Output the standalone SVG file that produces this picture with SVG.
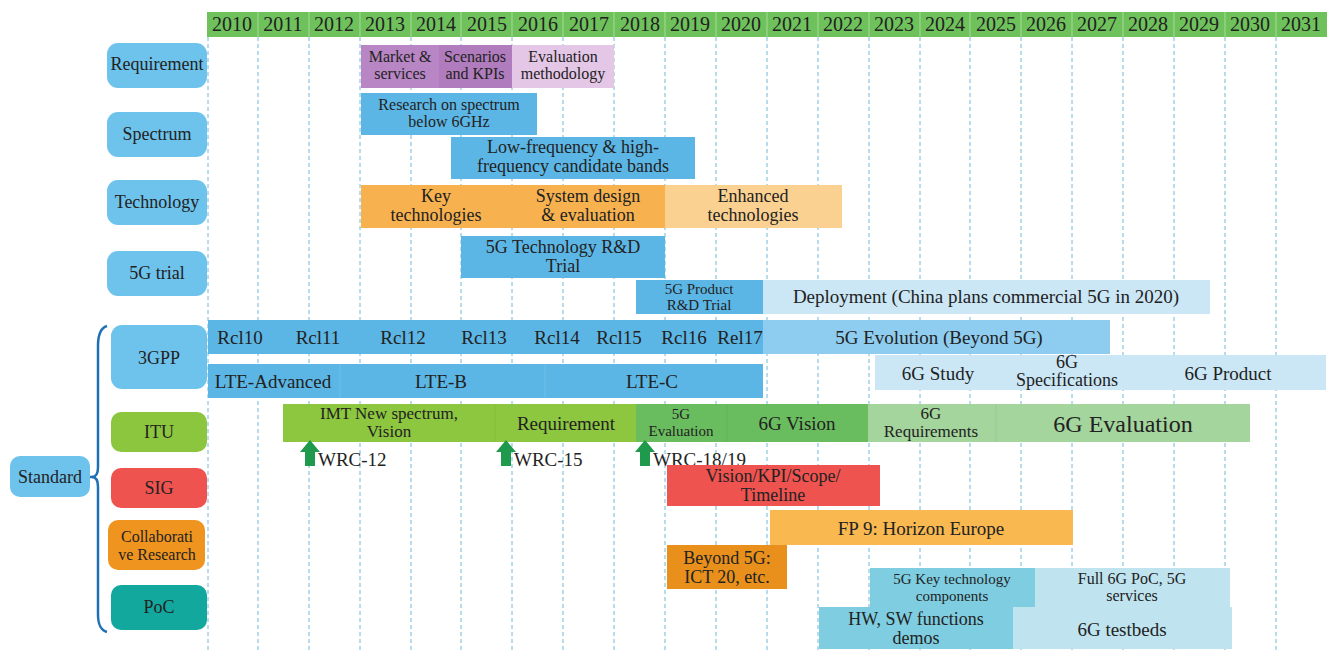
<svg xmlns="http://www.w3.org/2000/svg" width="1336" height="664" viewBox="0 0 1336 664" font-family="'Liberation Serif','DejaVu Serif','Times New Roman',serif">
<style>
text{font-family:"Liberation Serif","DejaVu Serif","Times New Roman",serif;fill:#222;text-anchor:middle}
.yr{font-size:20px}
.lb{font-size:18px}
.b{font-size:19px}
.m{font-size:18px}
.s{font-size:17px}
.xs{font-size:16px}
.xxs{font-size:15px}
.grid{stroke:#6fb9d8;stroke-width:1;stroke-dasharray:4 3}
</style>
<rect width="1336" height="664" fill="#fff"/>
<g id="header">
<rect x="207" y="12" width="1120" height="25" fill="#6fc15c"/>
<g stroke="#a8dc98" stroke-width="1">
<path d="M258 12V37M309 12V37M360 12V37M411 12V37M461 12V37M512 12V37M563 12V37M614 12V37M665 12V37M716 12V37M767 12V37M818 12V37M869 12V37M920 12V37M970 12V37M1021 12V37M1072 12V37M1123 12V37M1174 12V37M1225 12V37M1276 12V37"/>
</g>
<g class="yr">
<text x="232" y="31">2010</text><text x="283" y="31">2011</text><text x="334" y="31">2012</text><text x="385" y="31">2013</text><text x="436" y="31">2014</text><text x="487" y="31">2015</text><text x="538" y="31">2016</text><text x="589" y="31">2017</text><text x="640" y="31">2018</text><text x="690" y="31">2019</text><text x="741" y="31">2020</text><text x="792" y="31">2021</text><text x="843" y="31">2022</text><text x="894" y="31">2023</text><text x="945" y="31">2024</text><text x="996" y="31">2025</text><text x="1046" y="31">2026</text><text x="1097" y="31">2027</text><text x="1148" y="31">2028</text><text x="1199" y="31">2029</text><text x="1250" y="31">2030</text><text x="1301" y="31">2031</text>
</g>
</g>
<g id="grid" class="grid">
<path d="M208 37V652M258 37V652M309 37V652M360 37V652M411 37V652M461 37V652M512 37V652M563 37V652M614 37V652M665 37V652M716 37V652M767 37V652M818 37V652M869 37V652M920 37V652M970 37V652M1021 37V652M1072 37V652M1123 37V652M1174 37V652M1225 37V652M1276 37V652"/>
</g>

<g id="labels">
<g id="lbl-requirement"><rect x="107" y="43" width="100" height="45" rx="11" fill="#6ec3ec"/><text class="lb" x="157" y="70">Requirement</text></g>
<g id="lbl-spectrum"><rect x="107" y="112" width="100" height="45" rx="11" fill="#6ec3ec"/><text class="lb" x="157" y="140">Spectrum</text></g>
<g id="lbl-technology"><rect x="107" y="180" width="100" height="45" rx="11" fill="#6ec3ec"/><text class="lb" x="157" y="208">Technology</text></g>
<g id="lbl-5gtrial"><rect x="107" y="251" width="100" height="45" rx="11" fill="#6ec3ec"/><text class="lb" x="157" y="279">5G trial</text></g>
<g id="lbl-3gpp"><rect x="111" y="325" width="96" height="64" rx="11" fill="#6ec3ec"/><text class="lb" x="159" y="364">3GPP</text></g>
<g id="lbl-itu"><rect x="111" y="412" width="96" height="40" rx="10" fill="#8cc63f"/><text class="lb" x="159" y="438">ITU</text></g>
<g id="lbl-sig"><rect x="111" y="468" width="96" height="40" rx="10" fill="#ef5350"/><text class="lb" x="159" y="494">SIG</text></g>
<g id="lbl-collab"><rect x="108" y="520" width="97" height="50" rx="10" fill="#ef941f"/><text class="xs" x="157" y="542">Collaborati</text><text class="xs" x="157" y="560">ve Research</text></g>
<g id="lbl-poc"><rect x="111" y="585" width="96" height="45" rx="10" fill="#13a89e"/><text class="lb" x="159" y="613">PoC</text></g>
<g id="lbl-standard"><rect x="10" y="456" width="80" height="41" rx="10" fill="#6ec3ec"/><text class="lb" x="50" y="483">Standard</text></g>
</g>

<g id="connectors" fill="none" stroke="#1f6fb5" stroke-width="2.5">
<path d="M107 326C100 328 98 335 98 346L98 467Q98 477 92 477Q98 477 98 487L98 614C98 624 100 630 107 632"/>
<path d="M90 477H93"/>
</g>

<g id="requirement">
<rect x="361" y="45" width="78" height="43" fill="#b886c5"/>
<rect x="439" y="45" width="73" height="43" fill="#b07cbd"/>
<rect x="512" y="45" width="102" height="43" fill="#e4c6e6"/>
<text class="xs" x="400" y="62">Market &amp;</text><text class="xs" x="400" y="79">services</text>
<text class="xs" x="475" y="62">Scenarios</text><text class="xs" x="475" y="79">and KPIs</text>
<text class="xs" x="563" y="62">Evaluation</text><text class="xs" x="563" y="79">methodology</text>
</g>
<g id="spectrum">
<rect x="361" y="93" width="176" height="42" fill="#5cb6e5"/>
<text class="xs" x="449" y="110">Research on spectrum</text><text class="xs" x="449" y="127">below 6GHz</text>
<rect x="451" y="137" width="244" height="42" fill="#5cb6e5"/>
<text class="m" x="573" y="153">Low-frequency &amp; high-</text><text class="m" x="573" y="172">frequency candidate bands</text>
</g>
<g id="technology">
<rect x="361" y="185" width="151" height="43" fill="#f7b14f"/>
<rect x="512" y="185" width="153" height="43" fill="#f7b24f"/>
<rect x="665" y="185" width="177" height="43" fill="#fad191"/>
<text class="m" x="436" y="202">Key</text><text class="m" x="436" y="221">technologies</text>
<text class="m" x="588" y="202">System design</text><text class="m" x="588" y="221">&amp; evaluation</text>
<text class="m" x="753" y="202">Enhanced</text><text class="m" x="753" y="221">technologies</text>
</g>
<g id="trial">
<rect x="461" y="236" width="204" height="42" fill="#5cb6e5"/>
<text class="m" x="563" y="253">5G Technology R&amp;D</text><text class="m" x="563" y="272">Trial</text>
<rect x="636" y="280" width="127" height="34" fill="#5cb6e5"/>
<rect x="763" y="280" width="447" height="34" fill="#cbe7f6"/>
<text class="xxs" x="699" y="294">5G Product</text><text class="xxs" x="699" y="310">R&amp;D Trial</text>
<text class="b" x="986" y="303">Deployment (China plans commercial 5G in 2020)</text>
</g>
<g id="gpp">
<rect x="208" y="320" width="555" height="34" fill="#5cb6e5"/>
<rect x="763" y="320" width="347" height="34" fill="#8ecdef"/>
<g class="b">
<text x="240" y="344">Rcl10</text><text x="318" y="344">Rcl11</text><text x="403" y="344">Rcl12</text><text x="484" y="344">Rcl13</text><text x="557" y="344">Rcl14</text><text x="619" y="344">Rcl15</text><text x="684" y="344">Rcl16</text><text x="740" y="344">Rel17</text>
<text x="939" y="344">5G Evolution (Beyond 5G)</text>
</g>
<rect x="208" y="364" width="555" height="34" fill="#5cb6e5"/>
<path d="M340 364V398M545 364V398" stroke="#6fbde7" stroke-width="1"/>
<g class="b">
<text x="273" y="388">LTE-Advanced</text><text x="441" y="388">LTE-B</text><text x="652" y="388">LTE-C</text>
</g>
<rect x="875" y="355" width="451" height="35" fill="#cbe7f6"/>
<text class="b" x="938" y="380">6G Study</text>
<text class="m" x="1067" y="368">6G</text><text class="m" x="1067" y="386">Specifications</text>
<text class="b" x="1228" y="380">6G Product</text>
</g>
<g id="itu">
<rect x="283" y="404" width="353" height="38" fill="#8dc63f"/>
<path d="M495 404V442" stroke="#86bd3c" stroke-width="1"/>
<rect x="636" y="404" width="232" height="38" fill="#6abd5f"/>
<path d="M727 404V442" stroke="#62b357" stroke-width="1"/>
<rect x="868" y="404" width="382" height="38" fill="#a4d59d"/>
<path d="M996 404V442" stroke="#97ca90" stroke-width="1"/>
<text class="s" x="389" y="419">IMT New spectrum,</text><text class="s" x="389" y="437">Vision</text>
<text class="b" x="566" y="430">Requirement</text>
<text class="xxs" x="681" y="419">5G</text><text class="xxs" x="681" y="436">Evaluation</text>
<text class="b" x="797" y="430">6G Vision</text>
<text class="s" x="931" y="419">6G</text><text class="s" x="931" y="437">Requirements</text>
<text x="1123" y="432" font-size="24">6G Evaluation</text>
</g>
<g id="wrc" fill="#1f9a4c">
<path d="M300 452L310 440L320 452H315V466H305V452Z"/>
<path d="M496 452L506 440L516 452H511V466H501V452Z"/>
<path d="M635 452L645 440L655 452H650V466H640V452Z"/>
<text class="b" x="318" y="466" style="text-anchor:start">WRC-12</text>
<text class="b" x="514" y="466" style="text-anchor:start">WRC-15</text>
<text class="b" x="653" y="466" style="text-anchor:start">WRC-18/19</text>
</g>
<g id="sig">
<rect x="667" y="465" width="213" height="41" fill="#ee5350"/>
<text class="m" x="773" y="482">Vision/KPI/Scope/</text><text class="m" x="773" y="501">Timeline</text>
</g>
<g id="collab">
<rect x="770" y="510" width="303" height="35" fill="#f9b850"/>
<text class="b" x="921" y="535">FP 9: Horizon Europe</text>
<rect x="667" y="545" width="120" height="44" fill="#e8901b"/>
<text class="m" x="727" y="564">Beyond 5G:</text><text class="m" x="727" y="583">ICT 20, etc.</text>
</g>
<g id="poc">
<rect x="870" y="568" width="165" height="39" fill="#7ecde0"/>
<rect x="1035" y="568" width="195" height="39" fill="#bfe4ef"/>
<text class="xxs" x="952" y="584">5G Key technology</text><text class="xxs" x="952" y="601">components</text>
<text class="xs" x="1132" y="584">Full 6G PoC, 5G</text><text class="xs" x="1132" y="601">services</text>
<rect x="819" y="607" width="194" height="42" fill="#7ecde0"/>
<rect x="1013" y="607" width="219" height="42" fill="#bfe4ef"/>
<text class="m" x="916" y="625">HW, SW functions</text><text class="m" x="916" y="644">demos</text>
<text class="b" x="1122" y="636">6G testbeds</text>
</g>
</svg>
